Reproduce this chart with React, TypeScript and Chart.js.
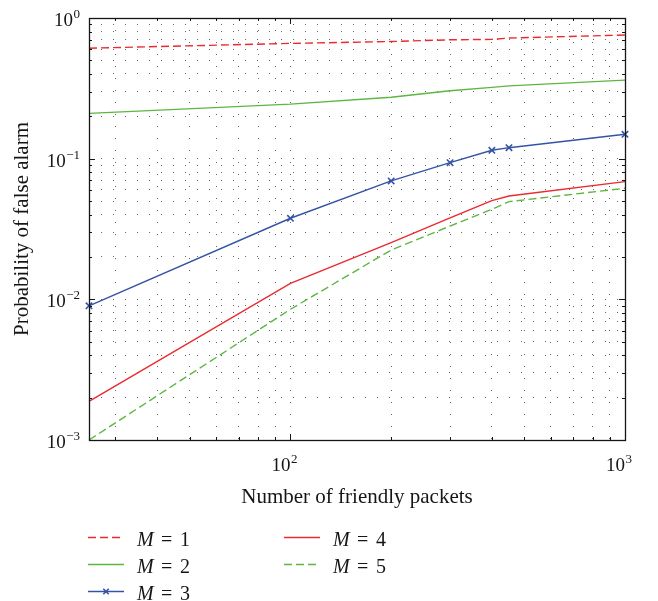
import { useEffect, useRef } from "react";
import { Chart, registerables } from "chart.js";

Chart.register(...registerables);

// Number of friendly packets (x) and probability of false alarm per M
const packets = [25, 100, 200, 300, 400, 450, 1000];
const pfaM1 = [0.61, 0.66, 0.68, 0.7, 0.705, 0.72, 0.757];
const pfaM2 = [0.21, 0.244, 0.273, 0.304, 0.321, 0.329, 0.362];
const pfaM3 = [0.009, 0.0377, 0.0695, 0.0937, 0.1147, 0.1197, 0.149];
const pfaM4 = [0.00188, 0.013, 0.0253, 0.038, 0.0503, 0.0543, 0.0687];
const pfaM5 = [0.001, 0.0085, 0.0224, 0.0332, 0.0437, 0.0495, 0.0616];
const mValues = ["1", "2", "3", "4", "5"];

// Grid / tick positions and decade labels
const xGridTicks = [30, 40, 50, 60, 70, 80, 90, 100, 200, 300, 400, 500, 600, 700, 800, 900, 1000];
const yGridTicks = [
  0.001, 0.002, 0.003, 0.004, 0.005, 0.006, 0.007, 0.008, 0.009,
  0.01, 0.02, 0.03, 0.04, 0.05, 0.06, 0.07, 0.08, 0.09,
  0.1, 0.2, 0.3, 0.4, 0.5, 0.6, 0.7, 0.8, 0.9, 1,
];
const xDecadeExps = [2, 3];
const yDecadeExps = [-3, -2, -1, 0];

const xTitle = "Number of friendly packets";
const yTitle = "Probability of false alarm";

const SERIF = '"Liberation Serif", "DejaVu Serif", serif';
const RED = "#ea2a2f";
const GREEN = "#5cb641";
const BLUE = "#3453a4";
const INK = "#151515";

function isDecade(v: number) {
  const l = Math.log10(v);
  return Math.abs(l - Math.round(l)) < 1e-9;
}

// "10" with a raised exponent; `xRight` is where the base "10" ends
function drawPower(ctx: CanvasRenderingContext2D, exp: number, baseRight: number, baseline: number) {
  const sup = exp < 0 ? "\u2212" + Math.abs(exp) : String(exp);
  ctx.textAlign = "left";
  ctx.textBaseline = "alphabetic";
  ctx.font = `19px ${SERIF}`;
  const bw = ctx.measureText("10").width;
  ctx.fillText("10", baseRight - bw, baseline);
  ctx.font = `13px ${SERIF}`;
  ctx.fillText(sup, baseRight + 0.5, baseline - 8);
}

function supWidth(ctx: CanvasRenderingContext2D, exp: number) {
  const sup = exp < 0 ? "\u2212" + Math.abs(exp) : String(exp);
  ctx.font = `13px ${SERIF}`;
  return ctx.measureText(sup).width + 0.5;
}

const axesPlugin = {
  id: "matlabAxes",
  afterDraw(chart: any) {
    const { ctx, chartArea: a, scales } = chart;
    const xs = scales.x;
    const ys = scales.y;
    ctx.save();

    // inward tick marks on all four sides
    ctx.strokeStyle = INK;
    ctx.lineWidth = 1;
    ctx.beginPath();
    for (const v of xGridTicks) {
      const px = Math.round(xs.getPixelForValue(v)) + 0.5;
      const len = isDecade(v) ? 6 : 3;
      ctx.moveTo(px, a.bottom);
      ctx.lineTo(px, a.bottom - len);
      ctx.moveTo(px, a.top);
      ctx.lineTo(px, a.top + len);
    }
    for (const v of yGridTicks) {
      const py = Math.round(ys.getPixelForValue(v)) + 0.5;
      const len = isDecade(v) ? 6 : 3;
      ctx.moveTo(a.left, py);
      ctx.lineTo(a.left + len, py);
      ctx.moveTo(a.right, py);
      ctx.lineTo(a.right - len, py);
    }
    ctx.stroke();

    // frame
    ctx.lineWidth = 1.3;
    ctx.strokeRect(Math.round(a.left) + 0.5, Math.round(a.top) + 0.5, Math.round(a.right - a.left), Math.round(a.bottom - a.top));

    // decade labels
    ctx.fillStyle = INK;
    for (const e of yDecadeExps) {
      const py = ys.getPixelForValue(Math.pow(10, e));
      const right = a.left - 9 - supWidth(ctx, e);
      drawPower(ctx, e, right, py + 8);
    }
    for (const e of xDecadeExps) {
      const px = xs.getPixelForValue(Math.pow(10, e));
      drawPower(ctx, e, px, a.bottom + 31);
    }

    // axis titles
    ctx.font = `21px ${SERIF}`;
    ctx.textAlign = "center";
    ctx.textBaseline = "alphabetic";
    ctx.fillText(xTitle, (a.left + a.right) / 2, a.bottom + 63);
    ctx.save();
    ctx.translate(28, (a.top + a.bottom) / 2);
    ctx.rotate(-Math.PI / 2);
    ctx.fillText(yTitle, 0, 0);
    ctx.restore();

    // legend: two columns below the axes
    const rowY = [537, 564, 591];
    const colX = [88, 284];
    chart.data.datasets.forEach((ds: any, i: number) => {
      const col = i < 3 ? 0 : 1;
      const row = i < 3 ? i : i - 3;
      const y = rowY[row];
      const x0 = colX[col];
      const x1 = x0 + 36;
      ctx.save();
      ctx.strokeStyle = ds.borderColor;
      ctx.lineWidth = ds.borderWidth;
      ctx.setLineDash(ds.borderDash || []);
      ctx.beginPath();
      ctx.moveTo(x0, y + 0.5);
      ctx.lineTo(x1, y + 0.5);
      ctx.stroke();
      ctx.setLineDash([]);
      if (ds.pointRadius > 0) {
        const cx = (x0 + x1) / 2;
        const r = ds.pointRadius * 0.6;
        ctx.lineWidth = ds.pointBorderWidth;
        ctx.beginPath();
        ctx.moveTo(cx - r, y + 0.5 - r);
        ctx.lineTo(cx + r, y + 0.5 + r);
        ctx.moveTo(cx - r, y + 0.5 + r);
        ctx.lineTo(cx + r, y + 0.5 - r);
        ctx.stroke();
      }
      ctx.restore();

      const tx = x1 + 13;
      const base = y + 9;
      ctx.fillStyle = INK;
      ctx.textAlign = "left";
      ctx.textBaseline = "alphabetic";
      ctx.font = `italic 20px ${SERIF}`;
      ctx.fillText("M", tx, base);
      ctx.font = `20px ${SERIF}`;
      ctx.fillText("=", tx + 24, base);
      ctx.fillText(mValues[i], tx + 43, base);
    });

    ctx.restore();
  },
};

function toPoints(ys: number[]) {
  return packets.map((x, i) => ({ x, y: ys[i] }));
}

export default function App() {
  const canvasRef = useRef<HTMLCanvasElement | null>(null);

  useEffect(() => {
    const canvas = canvasRef.current;
    if (!canvas) return;
    const common = { tension: 0, clip: false as any, borderWidth: 1.4, pointRadius: 0, fill: false };
    const chart = new Chart(canvas, {
      type: "line",
      data: {
        datasets: [
          { ...common, label: "M = 1", data: toPoints(pfaM1), borderColor: RED, borderDash: [8, 4] },
          { ...common, label: "M = 2", data: toPoints(pfaM2), borderColor: GREEN },
          {
            ...common,
            label: "M = 3",
            data: toPoints(pfaM3),
            borderColor: BLUE,
            pointStyle: "crossRot",
            pointRadius: 4.5,
            pointBorderWidth: 1.6,
            pointBorderColor: BLUE,
            pointBackgroundColor: BLUE,
          },
          { ...common, label: "M = 4", data: toPoints(pfaM4), borderColor: RED },
          { ...common, label: "M = 5", data: toPoints(pfaM5), borderColor: GREEN, borderDash: [8, 4] },
        ],
      },
      options: {
        animation: false,
        responsive: false,
        devicePixelRatio: 1,
        layout: { padding: { left: 89, top: 18, right: 33, bottom: 161 } },
        plugins: { legend: { display: false }, tooltip: { enabled: false } },
        scales: {
          x: {
            type: "logarithmic",
            min: 25,
            max: 1000,
            afterBuildTicks: (scale: any) => {
              scale.ticks = xGridTicks.map((v) => ({ value: v }));
            },
            ticks: { display: false },
            grid: { color: "rgba(0,0,0,0.6)", lineWidth: 1, drawTicks: false },
            border: { display: false, dash: [1, 11] },
          },
          y: {
            type: "logarithmic",
            min: 0.001,
            max: 1,
            afterBuildTicks: (scale: any) => {
              scale.ticks = yGridTicks.map((v) => ({ value: v }));
            },
            ticks: { display: false },
            grid: { color: "rgba(0,0,0,0.6)", lineWidth: 1, drawTicks: false },
            border: { display: false, dash: [1, 11] },
          },
        },
      },
      plugins: [axesPlugin],
    } as any);
    return () => chart.destroy();
  }, []);

  return (
    <div style={{ position: "absolute", left: 0, top: 0, width: 658, height: 601, background: "#fff" }}>
      <canvas ref={canvasRef} width={658} height={601} style={{ display: "block" }} />
    </div>
  );
}
